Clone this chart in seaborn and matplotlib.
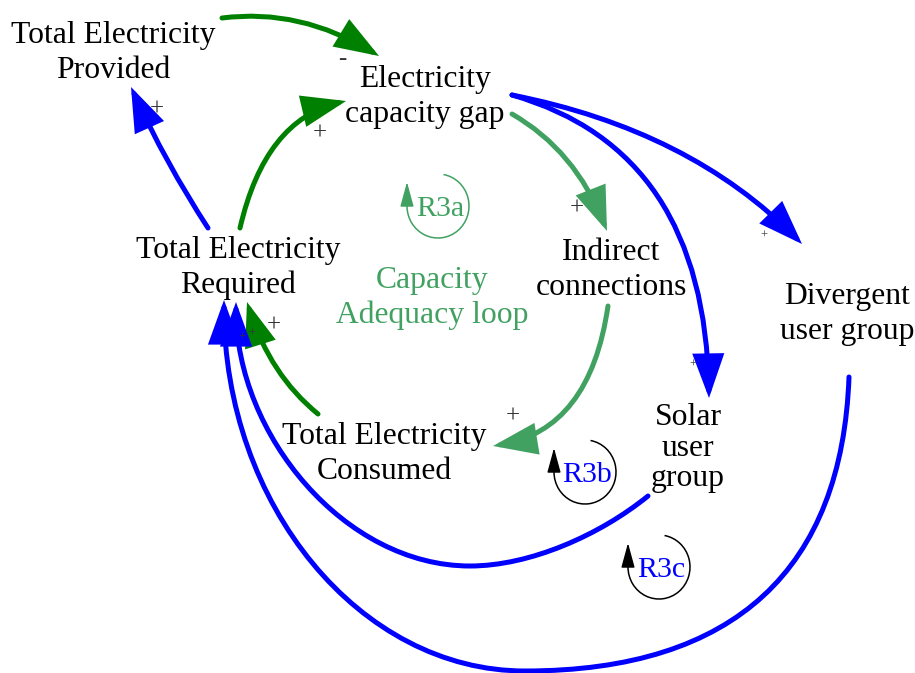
import matplotlib
matplotlib.use("Agg")
import matplotlib.pyplot as plt
import seaborn as sns
from matplotlib.patches import FancyArrowPatch, Arc
from matplotlib.path import Path

sns.set_theme(style="white")
plt.rcParams['font.family'] = ['Liberation Serif', 'DejaVu Serif']

# ---- diagram content ----
node_labels = ["Total Electricity\nProvided", "Electricity\ncapacity gap",
               "Total Electricity\nRequired", "Indirect\nconnections",
               "Divergent\nuser group", "Total Electricity\nConsumed",
               "Solar\nuser\ngroup"]
link_from = [0, 2, 2, 1, 3, 5, 1, 1, 6, 4]
link_to = [1, 0, 1, 3, 5, 2, 4, 6, 2, 2]
link_sign = ["-", "+", "+", "+", "+", "+", "+", "+", "+", "+"]
loop_names = ["R3a", "R3b", "R3c"]
loop_title = "Capacity\nAdequacy loop"

# ---- layout (pixel space of the 915x673 canvas) ----
node_xy = [(113, 53), (425, 97), (238, 268), (611, 270),
           (847, 314), (384, 454), (688, 448)]

BLUE = '#0000ff'
DKGREEN = '#008000'
MDGREEN = '#41a161'

Q = [Path.MOVETO, Path.CURVE3, Path.CURVE3]
C2 = [Path.MOVETO] + [Path.CURVE4] * 6
link_geom = [
    ([(222, 18), (300, 8), (379, 56)], Q, DKGREEN),
    ([(208, 228), (165, 162), (131, 87)], Q, BLUE),
    ([(240, 228), (265, 120), (346, 101)], Q, DKGREEN),
    ([(512, 114), (575, 150), (607, 231)], Q, MDGREEN),
    ([(608, 306), (590, 430), (493, 446)], Q, MDGREEN),
    ([(318, 414), (270, 375), (247, 302)], Q, DKGREEN),
    ([(512, 95), (690, 130), (802, 244)], Q, BLUE),
    ([(512, 95), (705, 150), (709, 398)], Q, BLUE),
    ([(648, 496), (600, 535), (530, 566), (470, 566),
      (345, 566), (236, 435), (236, 302)], C2, BLUE),
    ([(849, 377), (842, 568), (736, 671), (525, 671),
      (360, 671), (224, 505), (224, 300)], C2, BLUE),
]
# sign label position and size for each link
sign_xy = [(342, 59), (157, 110), (320, 134), (577, 209), (513, 417),
           (274, 326), (764, 236), (693, 365), (252, 334), (242, 338)]
sign_big = [True, True, True, True, True, True, False, False, False, False]

loop_xy = [(438, 206), (585, 472), (659, 567)]
loop_ring = ['#41a161', 'black', 'black']
loop_text = ['#41a161', BLUE, BLUE]

fig = plt.figure(figsize=(9.15, 6.73), dpi=100)
ax = fig.add_axes([0, 0, 1, 1])
ax.set_xlim(0, 915)
ax.set_ylim(673, 0)
ax.set_axis_off()

for (verts, codes, col) in link_geom:
    arr = FancyArrowPatch(path=Path(verts, codes),
                          arrowstyle='-|>,head_length=1.25,head_width=0.45',
                          mutation_scale=20, lw=3.6, color=col,
                          capstyle='round', joinstyle='miter')
    ax.add_patch(arr)

for lab, (x, y) in zip(node_labels, node_xy):
    ls = 1.08 if lab.startswith("Solar") else 1.25
    ax.text(x, y, lab, ha='center', va='center', fontsize=22.8,
            color='black', linespacing=ls)

ax.text(432, 298, loop_title, ha='center', va='center', fontsize=22.8,
        color=MDGREEN, linespacing=1.25)

for s, (x, y), big in zip(link_sign, sign_xy, sign_big):
    ax.text(x, y, s, ha='center', va='center', fontsize=18 if big else 9,
            color='#333333')

for name, (cx, cy), rc, tc in zip(loop_names, loop_xy, loop_ring, loop_text):
    ax.add_patch(Arc((cx, cy), 62, 64, theta1=-80, theta2=180,
                     color=rc, lw=1.1))
    ax.annotate("", xy=(cx - 31, cy - 24), xytext=(cx - 31, cy - 2),
                arrowprops=dict(arrowstyle='-|>,head_length=1.1,head_width=0.3',
                                mutation_scale=14, color=rc, lw=1,
                                shrinkA=0, shrinkB=0))
    ax.text(cx + 2, cy, name, ha='center', va='center_baseline',
            fontsize=21.5, color=tc)

fig.savefig("out.png", dpi=100, facecolor='white')
